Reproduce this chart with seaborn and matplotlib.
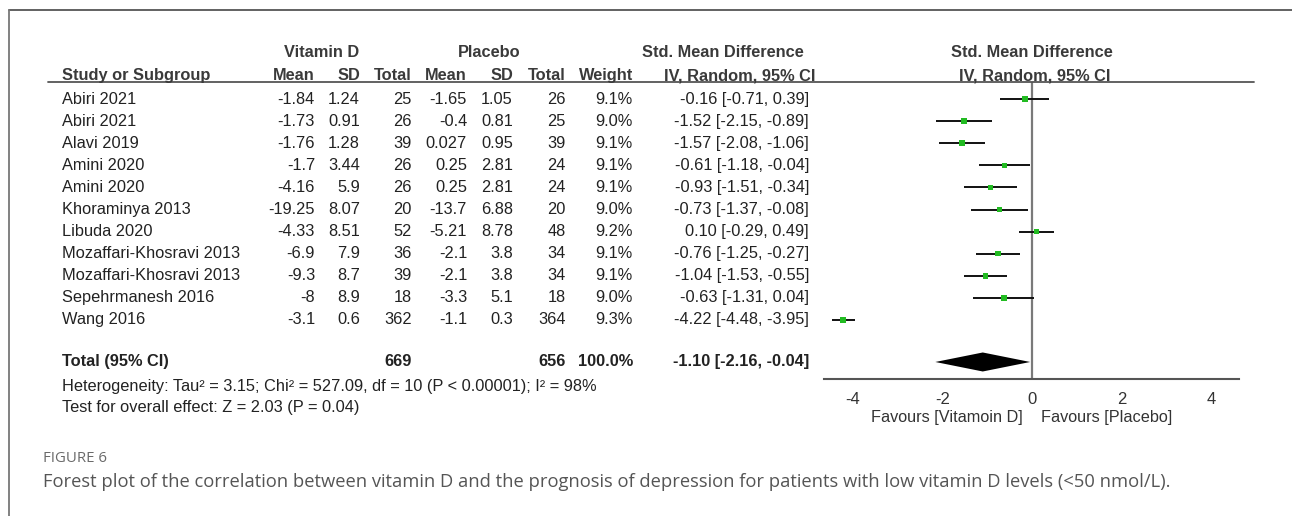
import seaborn as sns
import matplotlib.pyplot as plt
import matplotlib.transforms as mtransforms
from matplotlib.lines import Line2D
import pandas as pd

# data
studies = ["Abiri 2021", "Abiri 2021", "Alavi 2019", "Amini 2020", "Amini 2020",
           "Khoraminya 2013", "Libuda 2020", "Mozaffari-Khosravi 2013",
           "Mozaffari-Khosravi 2013", "Sepehrmanesh 2016", "Wang 2016"]
vitd_mean = [-1.84, -1.73, -1.76, -1.7, -4.16, -19.25, -4.33, -6.9, -9.3, -8, -3.1]
vitd_sd = [1.24, 0.91, 1.28, 3.44, 5.9, 8.07, 8.51, 7.9, 8.7, 8.9, 0.6]
vitd_n = [25, 26, 39, 26, 26, 20, 52, 36, 39, 18, 362]
plac_mean = [-1.65, -0.4, 0.027, 0.25, 0.25, -13.7, -5.21, -2.1, -2.1, -3.3, -1.1]
plac_sd = [1.05, 0.81, 0.95, 2.81, 2.81, 6.88, 8.78, 3.8, 3.8, 5.1, 0.3]
plac_n = [26, 25, 39, 24, 24, 20, 48, 34, 34, 18, 364]
weight = [9.1, 9.0, 9.1, 9.1, 9.1, 9.0, 9.2, 9.1, 9.1, 9.0, 9.3]
smd = [-0.16, -1.52, -1.57, -0.61, -0.93, -0.73, 0.10, -0.76, -1.04, -0.63, -4.22]
ci_lo = [-0.71, -2.15, -2.08, -1.18, -1.51, -1.37, -0.29, -1.25, -1.53, -1.31, -4.48]
ci_hi = [0.39, -0.89, -1.06, -0.04, -0.34, -0.08, 0.49, -0.27, -0.55, 0.04, -3.95]

total_vitd_n = 669
total_plac_n = 656
total_weight = 100.0
total_smd, total_lo, total_hi = -1.10, -2.16, -0.04

xticks = [-4, -2, 0, 2, 4]

df = pd.DataFrame({"study": studies, "smd": smd, "lo": ci_lo, "hi": ci_hi,
                   "row": range(len(studies))})

sns.set_theme(style="white")
plt.rcParams["font.family"] = ["Liberation Sans", "DejaVu Sans"]

W, H = 1292, 516
fig = plt.figure(figsize=(W / 100, H / 100), dpi=100)

def fx(px):
    return px / W

def fy(py):
    return 1 - py / H

# forest panel
ax = fig.add_axes([fx(824), fy(379), (1239 - 824) / W, (379 - 82) / H])
ax.set_xlim(-4.65, 4.63)
ax.set_ylim(12.67, -0.77)

ax.axvline(0, color="#7a7a7a", lw=1.6, zorder=1)
ax.hlines(df["row"], df["lo"], df["hi"], color="#111111", lw=1.4, zorder=2)
sns.scatterplot(data=df, x="smd", y="row", marker="s", s=16, color="#22bb22",
                edgecolor="none", ax=ax, zorder=3, legend=False)

total_row = 11.9
ax.fill([total_lo, total_smd, total_hi, total_smd],
        [total_row, total_row - 0.43, total_row, total_row + 0.43],
        color="black", lw=0, zorder=3)

for s in ["top", "left", "right"]:
    ax.spines[s].set_visible(False)
ax.spines["bottom"].set_color("#555555")
ax.spines["bottom"].set_linewidth(1.5)
ax.set_xticks(xticks)
ax.set_xticklabels([str(t) for t in xticks])
ax.set_yticks([])
ax.tick_params(axis="x", direction="inout", length=10, width=1.2, colors="#444444",
               labelsize=12, pad=4, labelcolor="#333333")
ax.set_xlabel("")
ax.set_ylabel("")

ax.text(-0.2, 14.39, "Favours [Vitamoin D]", ha="right", va="center",
        fontsize=11.7, color="#333333")
ax.text(0.2, 14.39, "Favours [Placebo]", ha="left", va="center",
        fontsize=11.7, color="#333333")

# table text, x in figure pixels, y in row units of the forest axes
trans = mtransforms.blended_transform_factory(fig.transFigure, ax.transData)
fs = 11.8
txt = "#222222"
hdr = "#3a3a3a"

def put(px, row, s, ha="right", bold=False, color=txt, size=fs):
    fig.text(fx(px), row, s, transform=trans, ha=ha, va="center", fontsize=size,
             fontweight="bold" if bold else "normal", color=color)

cols = [315, 360, 412, 467, 513, 566, 633]
for i in range(len(studies)):
    put(62, i, studies[i], ha="left")
    vals = [f"{vitd_mean[i]:g}", f"{vitd_sd[i]:g}", f"{vitd_n[i]}",
            f"{plac_mean[i]:g}", f"{plac_sd[i]:g}", f"{plac_n[i]}",
            f"{weight[i]:.1f}%"]
    for px, v in zip(cols, vals):
        put(px, i, v)
    put(809, i, f"{smd[i]:.2f} [{ci_lo[i]:.2f}, {ci_hi[i]:.2f}]")

put(62, total_row, "Total (95% CI)", ha="left", bold=True)
put(412, total_row, f"{total_vitd_n}", bold=True)
put(566, total_row, f"{total_plac_n}", bold=True)
put(633, total_row, f"{total_weight:.1f}%", bold=True)
put(809, total_row, f"{total_smd:.2f} [{total_lo:.2f}, {total_hi:.2f}]", bold=True)

put(62, 13.03, "Heterogeneity: Tau\u00b2 = 3.15; Chi\u00b2 = 527.09, df = 10 (P < 0.00001); I\u00b2 = 98%",
    ha="left")
put(62, 13.98, "Test for overall effect: Z = 2.03 (P = 0.04)", ha="left")

# headers
r1, r2 = -2.1, -1.05
put(322, r1, "Vitamin D", ha="center", bold=True, color=hdr)
put(489, r1, "Placebo", ha="center", bold=True, color=hdr)
put(723, r1, "Std. Mean Difference", ha="center", bold=True, color=hdr)
put(1032, r1, "Std. Mean Difference", ha="center", bold=True, color=hdr)
put(62, r2, "Study or Subgroup", ha="left", bold=True, color=hdr)
for px, h in zip(cols, ["Mean", "SD", "Total", "Mean", "SD", "Total", "Weight"]):
    put(px, r2, h, bold=True, color=hdr)
put(740, r2, "IV, Random, 95% CI", ha="center", bold=True, color=hdr)
put(1035, r2, "IV, Random, 95% CI", ha="center", bold=True, color=hdr)

# header rule and page frame
fig.add_artist(Line2D([fx(48), fx(1254)], [fy(82), fy(82)], color="#555555", lw=1.3))
fig.add_artist(Line2D([fx(9), fx(1292)], [fy(10), fy(10)], color="#555555", lw=1.3))
fig.add_artist(Line2D([fx(9), fx(9)], [fy(10), fy(516)], color="#777777", lw=1.3))

# caption
fig.text(fx(43), fy(459), "FIGURE 6", ha="left", va="center", fontsize=10.8,
         color="#6a6a6a", family=["Open Sans", "DejaVu Sans"])
fig.text(fx(43), fy(482),
         "Forest plot of the correlation between vitamin D and the prognosis of depression "
         "for patients with low vitamin D levels (<50 nmol/L).",
         ha="left", va="center", fontsize=13.2, color="#555555",
         family=["Open Sans", "DejaVu Sans"])

fig.savefig("out.png", dpi=100)
plt.close(fig)
